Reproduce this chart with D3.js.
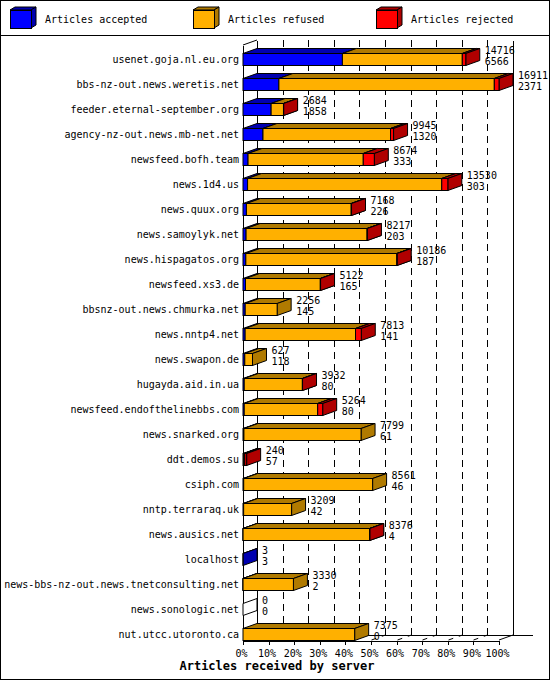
<!DOCTYPE html>
<html>
<head>
<meta charset="utf-8">
<script src="https://cdnjs.cloudflare.com/ajax/libs/d3/7.8.5/d3.min.js"></script>
<style>
  html, body { margin: 0; padding: 0; background: #fff; }
  svg { display: block; }
  text { font-family: "DejaVu Sans Mono", monospace; font-size: 10px; fill: #000; }
</style>
</head>
<body>
<svg id="chart" width="550" height="680"></svg>
<script>
// ---- data ----
const hosts = [
  "usenet.goja.nl.eu.org",
  "bbs-nz-out.news.weretis.net",
  "feeder.eternal-september.org",
  "agency-nz-out.news.mb-net.net",
  "newsfeed.bofh.team",
  "news.1d4.us",
  "news.quux.org",
  "news.samoylyk.net",
  "news.hispagatos.org",
  "newsfeed.xs3.de",
  "bbsnz-out.news.chmurka.net",
  "news.nntp4.net",
  "news.swapon.de",
  "hugayda.aid.in.ua",
  "newsfeed.endofthelinebbs.com",
  "news.snarked.org",
  "ddt.demos.su",
  "csiph.com",
  "nntp.terraraq.uk",
  "news.ausics.net",
  "localhost",
  "news-bbs-nz-out.news.tnetconsulting.net",
  "news.sonologic.net",
  "nut.utcc.utoronto.ca"
];
const offered  = [14716,16911,2684,9945,8674,13530,7168,8217,10186,5122,2256,7813,627,3932,5264,7799,240,8561,3209,8376,3,3330,0,7375];
const accepted = [6566,2371,1858,1320,333,303,226,203,187,165,145,141,118,80,80,61,57,46,42,4,3,2,0,0];
const refused  = [7920,14230,816,8425,7611,12827,6922,7994,9974,4942,2111,7292,509,3842,4854,7738,60,8515,3167,8362,0,3328,0,7375];
const rejected = [230,310,10,200,730,400,20,20,25,15,0,380,0,10,330,0,123,0,0,10,0,0,0,0];
const seriesNames = ["Articles accepted", "Articles refused", "Articles rejected"];
const pctTicks = [0,10,20,30,40,50,60,70,80,90,100];
const axisTitle = "Articles received by server";

// ---- styling ----
const fronts = ["#0000ff", "#ffb000", "#ff0000"];
const darks  = ["#0000b0", "#b07a00", "#b00000"];
const DX = 14, DY = 5;

const svg = d3.select("#chart");

const x = d3.scaleLinear().domain([0, d3.max(offered)]).range([243, 499]);
const pct = d3.scaleLinear().domain([0, 100]).range([243, 499]);
const y = d3.scaleBand().domain(hosts).range([40, 640]);
const barH = 12;
const barTop = h => y(h) + y.bandwidth() - barH;

// frame
svg.append("rect").attr("x", 0.5).attr("y", 0.5).attr("width", 549).attr("height", 679)
  .attr("fill", "#fff").attr("stroke", "#000");
svg.append("line").attr("x1", 0).attr("x2", 550).attr("y1", 35.5).attr("y2", 35.5)
  .attr("stroke", "#000").attr("shape-rendering", "crispEdges");

// legend
const leg = svg.append("g");
seriesNames.forEach((name, i) => {
  const lx = 10 + 183 * i, ly = 10, w = 21, h = 18, ddx = 5, ddy = 3;
  const g = leg.append("g").attr("stroke", "#000").attr("stroke-width", 1);
  g.append("polygon").attr("points", [[lx, ly], [lx + w, ly], [lx + w + ddx, ly - ddy], [lx + ddx, ly - ddy]].join(" "))
    .attr("fill", darks[i]);
  g.append("polygon").attr("points", [[lx + w, ly], [lx + w + ddx, ly - ddy], [lx + w + ddx, ly + h - ddy], [lx + w, ly + h]].join(" "))
    .attr("fill", darks[i]);
  g.append("rect").attr("x", lx + 0.5).attr("y", ly + 0.5).attr("width", w).attr("height", h)
    .attr("fill", fronts[i]).attr("shape-rendering", "crispEdges");
  leg.append("text").attr("x", lx + 35).attr("y", 23).text(name);
});

// back wall grid
const grid = svg.append("g").attr("stroke", "#000").attr("fill", "none");
pctTicks.slice(1, -1).forEach(t => {
  const gx = Math.round(pct(t) + DX) + 0.5;
  grid.append("line").attr("x1", gx).attr("x2", gx).attr("y1", 40).attr("y2", 635)
    .attr("stroke-dasharray", "7,5").attr("shape-rendering", "crispEdges");
  grid.append("line").attr("x1", Math.round(pct(t)) + 0.5).attr("y1", 640)
    .attr("x2", gx).attr("y2", 635).attr("stroke-dasharray", "5,6");
});
const solid = [
  [pct(0) + DX, 40, pct(0) + DX, 635],
  [pct(100) + DX, 40, pct(100) + DX, 635],
  [pct(0) + DX, 635, 532, 635],
  [pct(100), 640, pct(100) + DX, 635],
  [pct(0), 45, pct(0) + DX, 40],
  [pct(0), 45, pct(0), 640]
];
solid.forEach(s => {
  const vert = s[0] === s[2] || s[1] === s[3];
  const f = v => vert ? Math.round(v) + 0.5 : v;
  grid.append("line").attr("x1", f(s[0])).attr("y1", f(s[1])).attr("x2", f(s[2])).attr("y2", f(s[3]))
    .attr("shape-rendering", vert ? "crispEdges" : "auto");
});

// bars
const bars = svg.append("g").attr("stroke", "#000").attr("stroke-width", 1).attr("stroke-linejoin", "miter");
hosts.forEach((h, i) => {
  const vals = [accepted[i], refused[i], rejected[i]];
  const y0 = barTop(h) + 0.5, y1 = y0 + barH;
  let cum = 0;
  const g = bars.append("g");
  if (offered[i] === 0) {
    const x0 = x(0);
    g.append("polygon").attr("points", [[x0, y0], [x0 + DX, y0 - DY], [x0 + DX, y1 - DY], [x0, y1]].join(" "))
      .attr("fill", "#fff");
    return;
  }
  vals.forEach((v, k) => {
    if (v <= 0) return;
    const xa = x(cum), xb = x(cum + v);
    cum += v;
    g.append("polygon").attr("points", [[xa, y0], [xb, y0], [xb + DX, y0 - DY], [xa + DX, y0 - DY]].join(" "))
      .attr("fill", darks[k]);
    g.append("polygon").attr("points", [[xb, y0], [xb + DX, y0 - DY], [xb + DX, y1 - DY], [xb, y1]].join(" "))
      .attr("fill", darks[k]);
    g.append("rect").attr("x", xa).attr("y", y0).attr("width", xb - xa).attr("height", barH)
      .attr("fill", fronts[k]);
  });
});

// value labels
const vl = svg.append("g");
hosts.forEach((h, i) => {
  const tx = x(offered[i]) + DX + 5;
  const t = barTop(h);
  vl.append("text").attr("x", tx).attr("y", t + 1).text(offered[i]);
  vl.append("text").attr("x", tx).attr("y", t + 12).text(accepted[i]);
});

// host labels
svg.append("g").selectAll("text").data(hosts).join("text")
  .attr("x", 239).attr("y", d => y(d) + 19).attr("dy", "0.35em")
  .attr("text-anchor", "end").text(d => d);

// x axis
const ax = svg.append("g").attr("transform", "translate(0,640.5)")
  .call(d3.axisBottom(pct).tickValues(pctTicks).tickSize(4).tickSizeOuter(0).tickPadding(5).tickFormat(d => d + "%"));
ax.select(".domain").attr("stroke", "#000").attr("shape-rendering", "crispEdges");
ax.selectAll(".tick line").attr("stroke", "#000").attr("shape-rendering", "crispEdges");
ax.selectAll(".tick text").attr("font-family", "DejaVu Sans Mono").attr("font-size", 10).attr("fill", "#000").attr("dx", -2);

svg.append("text").attr("x", 277).attr("y", 670).attr("text-anchor", "middle")
  .style("font-weight", "bold").style("font-size", "12px").text(axisTitle);
</script>
</body>
</html>
